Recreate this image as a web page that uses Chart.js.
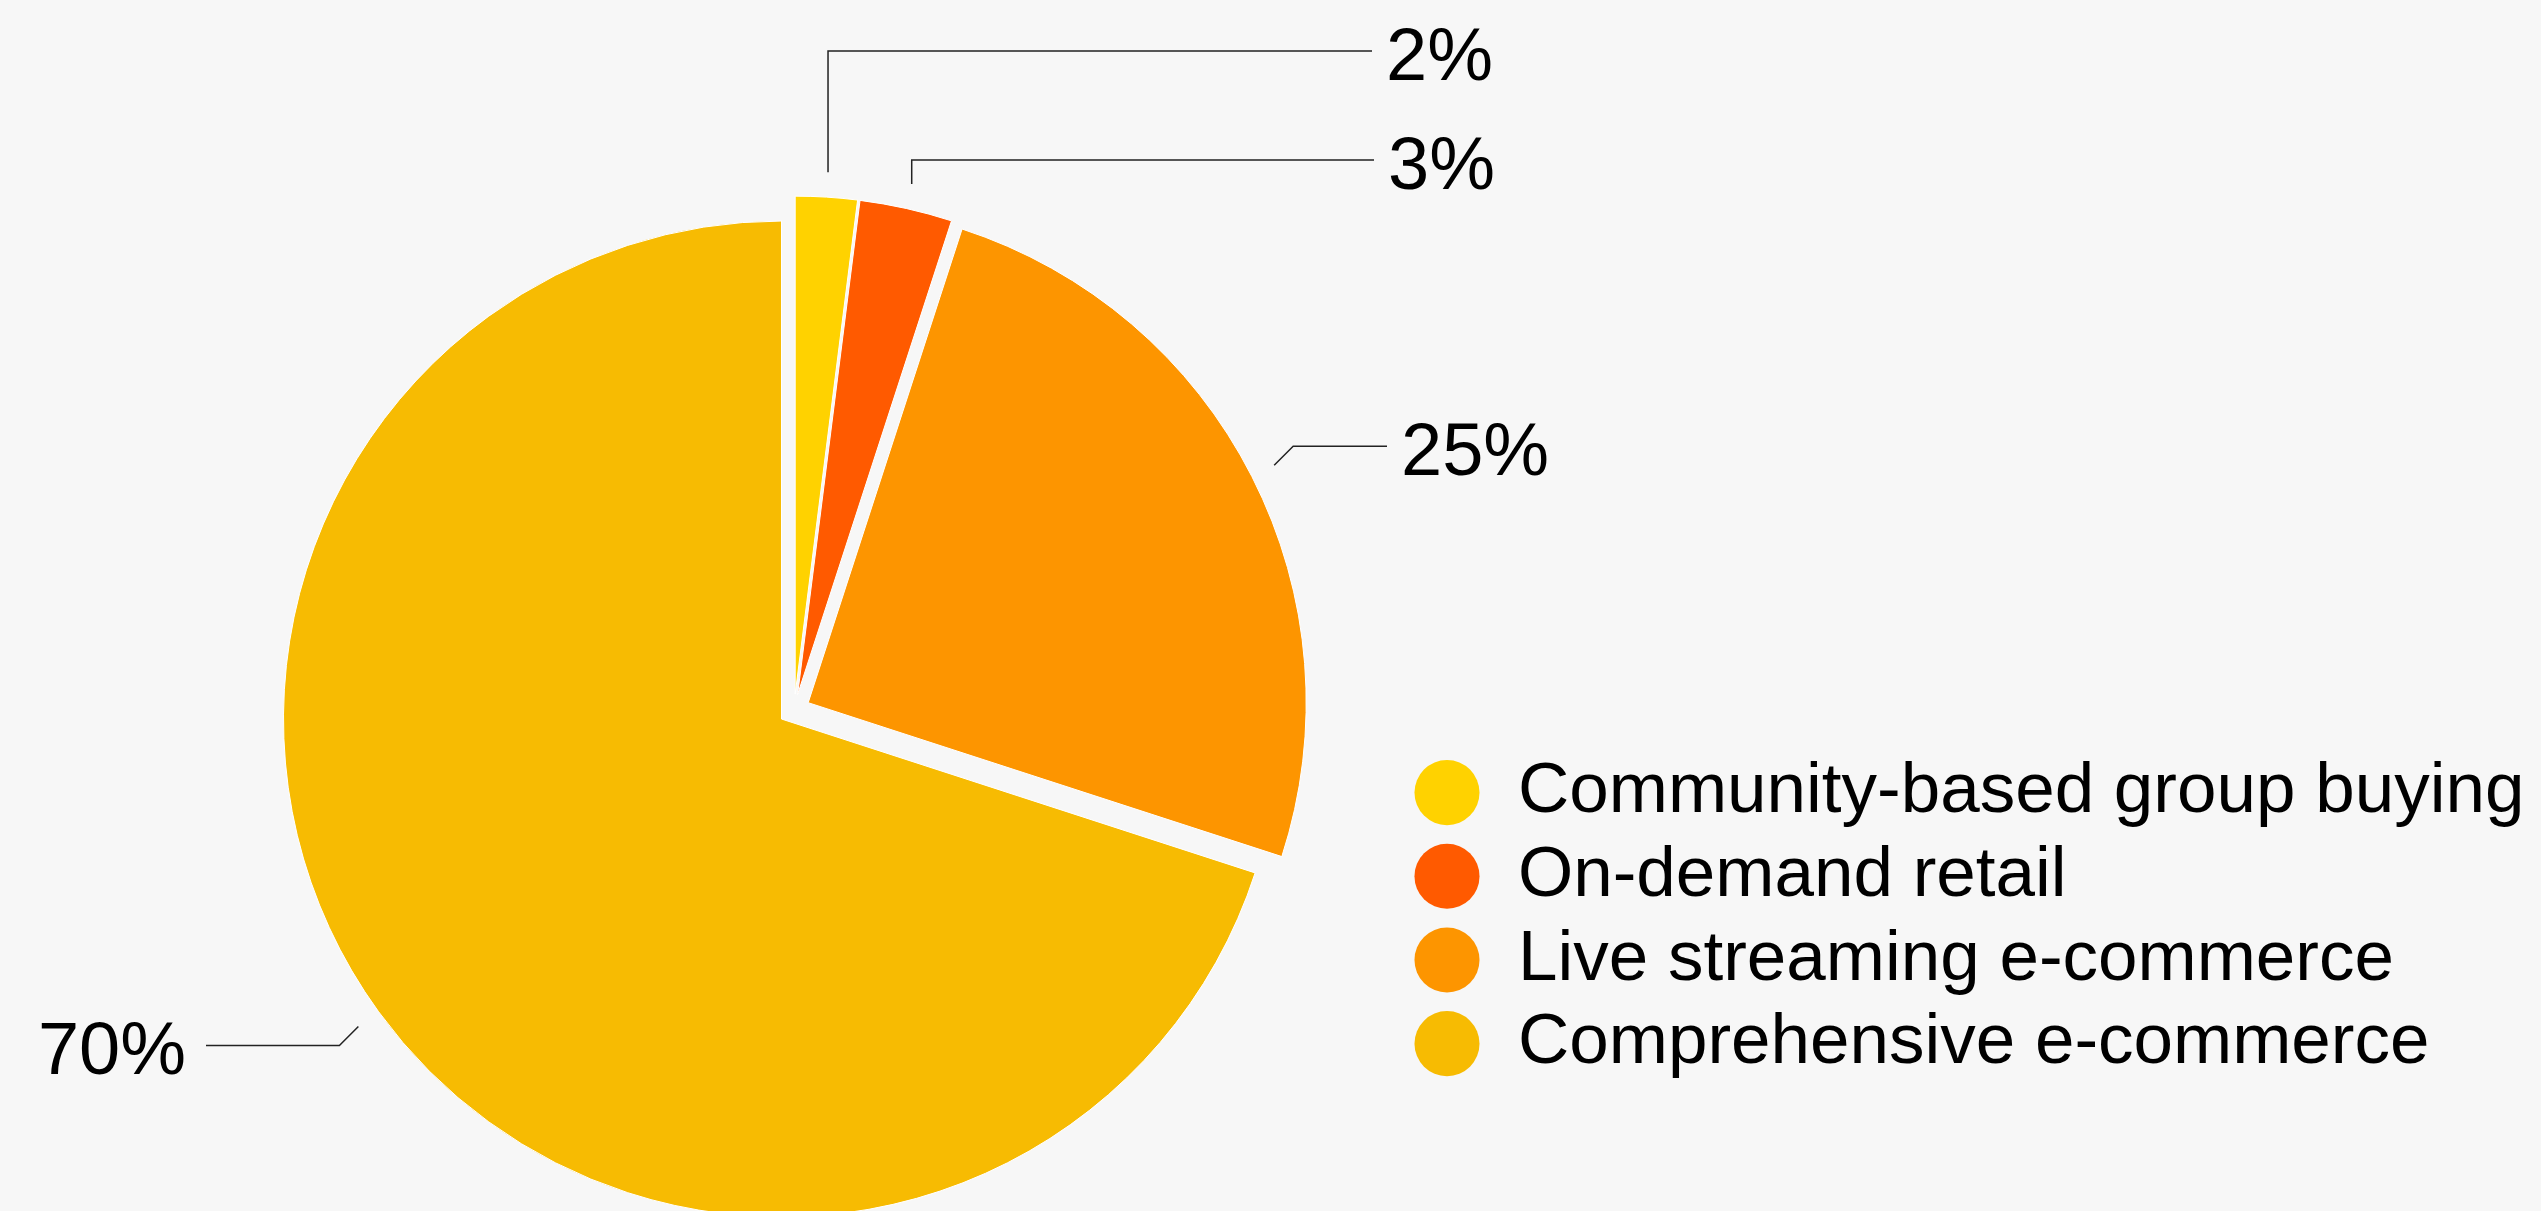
<!DOCTYPE html>
<html>
<head>
<meta charset="utf-8">
<script src="https://cdn.jsdelivr.net/npm/chart.js@4.4.1/dist/chart.umd.min.js"></script>
<style>
  html, body { margin: 0; padding: 0; background: #f7f7f7; }
  #wrap { width: 2541px; height: 1211px; position: relative; }
  canvas { display: block; }
</style>
</head>
<body>
<div id="wrap"><canvas id="c" width="2541" height="1211"></canvas></div>
<script>
// ---- data ----
const categories = ['Community-based group buying', 'On-demand retail', 'Live streaming e-commerce', 'Comprehensive e-commerce'];
const shares = [2, 3, 25, 70];
const valueLabels = ['2%', '3%', '25%', '70%'];

// ---- styles ----
const colors = ['#FFD200', '#FF5A00', '#FD9500', '#F7BB02'];
const FONT = '"Liberation Sans", Arial, Helvetica, sans-serif';

// legend geometry
const LEG_FONT = 71, LEG_PAD = 12.67, LEG_BOX = 71, LEGEND_LEFT = 1398.83;
const PAD_LEFT = 189.57;
const mctx = document.createElement('canvas').getContext('2d');
mctx.font = LEG_FONT + 'px ' + FONT;
const maxTextW = Math.max(...categories.map(c => mctx.measureText(c).width));
const legendW = LEG_PAD + LEG_BOX + LEG_FONT / 2 + maxTextW + 10;
const padRight = 2541 - LEGEND_LEFT - legendW;

// leader-line routing for the value labels (annotation layout)
const labelLayout = [
  { route: 'vertical', y: 51,  endX: 1372 },
  { route: 'vertical', y: 160, endX: 1374 },
  { route: 'diagonal', d: 19,  endX: 1387 },
  { route: 'diagonal', d: 19,  endX: 206 }
];

// exploded slices: translate only, keep the same radius and angles for all
const plainExplode = {
  id: 'plainExplode',
  beforeDatasetDraw(chart, args) {
    args.meta.data.forEach(arc => { arc.circumference = Math.PI / 2; });
  }
};

const valueLabelsPlugin = {
  id: 'valueLabels',
  afterDatasetsDraw(chart) {
    const meta = chart.getDatasetMeta(0);
    const ctx = chart.ctx;
    ctx.save();
    meta.data.forEach((arc, i) => {
      const lay = labelLayout[i];
      const mid = (arc.startAngle + arc.endAngle) / 2;
      const off = (arc.options.offset || 0) / 4;
      const cx = arc.x + Math.cos(mid) * off;
      const cy = arc.y + Math.sin(mid) * off;
      const r = arc.outerRadius + 25;
      const ax = cx + Math.cos(mid) * r;
      const ay = cy + Math.sin(mid) * r;
      let ex, ey;
      if (lay.route === 'vertical') {
        ex = ax; ey = lay.y;
      } else {
        ex = ax + Math.sign(Math.cos(mid)) * lay.d;
        ey = ay + Math.sign(Math.sin(mid)) * lay.d;
      }
      ctx.beginPath();
      ctx.strokeStyle = '#222';
      ctx.lineWidth = 1.5;
      ctx.moveTo(ax, ay);
      ctx.lineTo(ex, ey);
      ctx.lineTo(lay.endX, ey);
      ctx.stroke();
      const right = lay.endX > ex;
      ctx.fillStyle = '#000';
      ctx.font = '74px ' + FONT;
      ctx.textBaseline = 'alphabetic';
      ctx.textAlign = right ? 'left' : 'right';
      ctx.fillText(valueLabels[i], right ? lay.endX + 14 : lay.endX - 20, ey + 29);
    });
    ctx.restore();
  }
};

new Chart(document.getElementById('c'), {
  type: 'pie',
  data: {
    labels: categories,
    datasets: [{
      data: shares,
      backgroundColor: colors,
      borderColor: '#ffffff',
      borderWidth: 1,
      offset: 62.8,
      hoverOffset: 0,
      clip: false
    }]
  },
  options: {
    responsive: false,
    animation: false,
    events: [],
    radius: 498,
    layout: { padding: { left: PAD_LEFT, right: padRight, top: 327.8, bottom: 119.2 } },
    plugins: {
      tooltip: { enabled: false },
      legend: {
        display: true,
        position: 'right',
        align: 'end',
        labels: {
          usePointStyle: true,
          pointStyle: 'circle',
          boxWidth: LEG_BOX,
          boxHeight: 46,
          padding: LEG_PAD,
          color: '#000',
          font: { family: FONT, size: LEG_FONT },
          generateLabels: (chart) =>
            Chart.overrides.pie.plugins.legend.labels.generateLabels(chart).map(l => Object.assign(l, { lineWidth: 0 }))
        }
      }
    }
  },
  plugins: [plainExplode, valueLabelsPlugin]
});
</script>
</body>
</html>
